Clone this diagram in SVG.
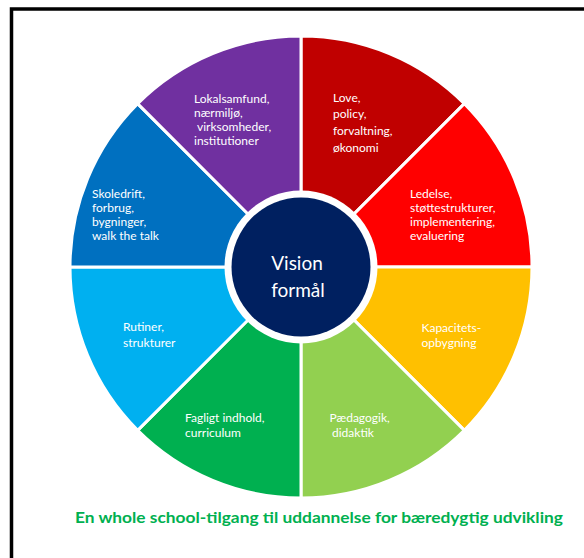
<svg xmlns="http://www.w3.org/2000/svg" width="584" height="558" viewBox="0 0 584 558">
  <style>
    .sector { stroke: #ffffff; stroke-width: 3; stroke-linejoin: miter; }
    .lbl { font-family: Lato, "Open Sans", "Liberation Sans", sans-serif; font-size: 12px; fill: #ffffff; }
    .hub { font-family: Lato, "Open Sans", "Liberation Sans", sans-serif; font-size: 19px; fill: #ffffff; text-anchor: middle; }
    .caption { font-family: Lato, "Open Sans", "Liberation Sans", sans-serif; font-size: 16px; font-weight: bold; fill: #00b050; }
  </style>

  <rect width="584" height="558" fill="#ffffff"/>
  <!-- frame: only the top and left edges fall inside the canvas -->
  <rect x="11.5" y="9" width="640" height="640" fill="none" stroke="#000000" stroke-width="3.5"/>

  <!-- wheel of eight sectors around centre (301,267), r=231 -->
  <g id="sector-love">
    <path class="sector" fill="#c00000" d="M301,267 L301,36 A231,231 0 0 1 464.34,103.66 Z"/>
    <text class="lbl" x="333" y="101.5">Love,</text>
    <text class="lbl" x="333" y="118">policy,</text>
    <text class="lbl" x="333" y="135">forvaltning,</text>
    <text class="lbl" x="333" y="151.5">økonomi</text>
  </g>
  <g id="sector-ledelse">
    <path class="sector" fill="#ff0000" d="M301,267 L464.34,103.66 A231,231 0 0 1 532,267 Z"/>
    <text class="lbl" x="410" y="197.5">Ledelse,</text>
    <text class="lbl" x="410" y="211.5">støttestrukturer,</text>
    <text class="lbl" x="410" y="226">implementering,</text>
    <text class="lbl" x="410" y="240">evaluering</text>
  </g>
  <g id="sector-kapacitet">
    <path class="sector" fill="#ffc000" d="M301,267 L532,267 A231,231 0 0 1 464.34,430.34 Z"/>
    <text class="lbl" x="421.5" y="331.5">Kapacitets-</text>
    <text class="lbl" x="421.5" y="347">opbygning</text>
  </g>
  <g id="sector-paedagogik">
    <path class="sector" fill="#92d050" d="M301,267 L464.34,430.34 A231,231 0 0 1 301,498 Z"/>
    <text class="lbl" x="329.5" y="422">Pædagogik,</text>
    <text class="lbl" x="332" y="436.5">didaktik</text>
  </g>
  <g id="sector-fagligt">
    <path class="sector" fill="#00b050" d="M301,267 L301,498 A231,231 0 0 1 137.66,430.34 Z"/>
    <text class="lbl" x="185" y="422">Fagligt indhold,</text>
    <text class="lbl" x="185" y="436.5">curriculum</text>
  </g>
  <g id="sector-rutiner">
    <path class="sector" fill="#00b0f0" d="M301,267 L137.66,430.34 A231,231 0 0 1 70,267 Z"/>
    <text class="lbl" x="123" y="331">Rutiner,</text>
    <text class="lbl" x="123" y="347">strukturer</text>
  </g>
  <g id="sector-skoledrift">
    <path class="sector" fill="#0070c0" d="M301,267 L70,267 A231,231 0 0 1 137.66,103.66 Z"/>
    <text class="lbl" x="92" y="198">Skoledrift,</text>
    <text class="lbl" x="92" y="212">forbrug,</text>
    <text class="lbl" x="92" y="225.5">bygninger,</text>
    <text class="lbl" x="92" y="239.5">walk the talk</text>
  </g>
  <g id="sector-lokalsamfund">
    <path class="sector" fill="#7030a0" d="M301,267 L137.66,103.66 A231,231 0 0 1 301,36 Z"/>
    <text class="lbl" x="194" y="102.5">Lokalsamfund,</text>
    <text class="lbl" x="194" y="116.5">nærmiljø,</text>
    <text class="lbl" x="197" y="131">virksomheder,</text>
    <text class="lbl" x="194" y="145">institutioner</text>
  </g>

  <!-- hub -->
  <g id="hub-vision">
    <circle cx="301" cy="267" r="76.5" fill="#ffffff"/>
    <circle cx="301" cy="267" r="69.5" fill="#002060"/>
    <text class="hub" x="297" y="270">Vision</text>
    <text class="hub" x="298" y="296.5">formål</text>
  </g>

  <g id="caption">
    <text class="caption" x="75" y="523" textLength="488" lengthAdjust="spacingAndGlyphs">En whole school-tilgang til uddannelse for bæredygtig udvikling</text>
  </g>
</svg>
